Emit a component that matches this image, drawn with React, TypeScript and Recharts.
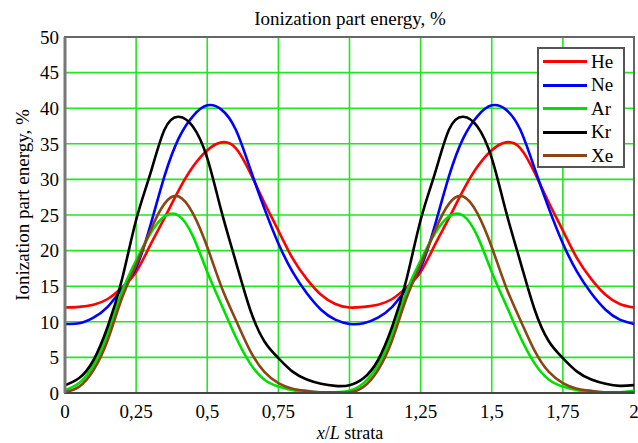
import {
    CartesianGrid,
    Line,
    LineChart,
    ReferenceArea,
    XAxis,
    YAxis,
} from 'recharts';

// x/L positions, two strata periods, step 0.05
const xs = [
    0, 0.05, 0.1, 0.15, 0.2, 0.25, 0.3, 0.35, 0.4, 0.45, 0.5, 0.55, 0.6, 0.65, 0.7, 0.75, 0.8, 0.85, 0.9, 0.95, 1,
    1.05, 1.1, 1.15, 1.2, 1.25, 1.3, 1.35, 1.4, 1.45, 1.5, 1.55, 1.6, 1.65, 1.7, 1.75, 1.8, 1.85, 1.9, 1.95, 2,
];

const he = [
    12.0, 12.1, 12.4, 13.2, 14.8, 17.0, 20.8, 24.6, 28.5, 31.8, 34.1, 35.2, 34.4, 31.0, 26.8, 22.8, 18.9, 16.0, 13.8, 12.5, 12.0,
    12.1, 12.4, 13.2, 14.8, 17.0, 20.8, 24.6, 28.5, 31.8, 34.1, 35.2, 34.4, 31.0, 26.8, 22.8, 18.9, 16.0, 13.8, 12.5, 12.0,
];
const ne = [
    9.7, 9.8, 10.6, 12.1, 14.6, 17.6, 23.5, 30.5, 35.8, 38.9, 40.4, 39.8, 37.0, 31.6, 26.0, 21.0, 17.0, 14.0, 11.7, 10.3, 9.7,
    9.8, 10.6, 12.1, 14.6, 17.6, 23.5, 30.5, 35.8, 38.9, 40.4, 39.8, 37.0, 31.6, 26.0, 21.0, 17.0, 14.0, 11.7, 10.3, 9.7,
];
const ar = [
    0.4, 1.4, 3.9, 8.4, 14.2, 18.6, 22.4, 24.8, 24.9, 22.0, 17.0, 12.4, 7.9, 4.2, 1.9, 0.9, 0.4, 0.2, 0.1, 0.1, 0.3,
    1.4, 3.9, 8.4, 14.2, 18.6, 22.4, 24.8, 24.9, 22.0, 17.0, 12.4, 7.9, 4.2, 1.9, 0.9, 0.4, 0.2, 0.1, 0.1, 0.3,
];
const kr = [
    1.1, 2.1, 4.6, 9.3, 15.9, 24.3, 30.8, 37.0, 38.8, 37.4, 33.0, 25.5, 18.5, 11.8, 7.3, 4.9, 3.0, 1.9, 1.3, 1.0, 1.1,
    2.1, 4.6, 9.3, 15.9, 24.3, 30.8, 37.0, 38.8, 37.4, 33.0, 25.5, 18.5, 11.8, 7.3, 4.9, 3.0, 1.9, 1.3, 1.0, 1.1,
];
const xe = [
    0.1, 0.9, 3.2, 7.4, 13.3, 18.0, 22.8, 26.6, 27.6, 25.2, 20.5, 14.9, 10.3, 6.0, 3.0, 1.4, 0.6, 0.3, 0.1, 0.1, 0.1,
    0.9, 3.2, 7.4, 13.3, 18.0, 22.8, 26.6, 27.6, 25.2, 20.5, 14.9, 10.3, 6.0, 3.0, 1.4, 0.6, 0.3, 0.1, 0.1, 0.1,
];

const xTicks = [0, 0.25, 0.5, 0.75, 1, 1.25, 1.5, 1.75, 2];
const yTicks = [0, 5, 10, 15, 20, 25, 30, 35, 40, 45, 50];

const series = [
    { key: 'He', values: he, color: '#ff0000' },
    { key: 'Ne', values: ne, color: '#0000ff' },
    { key: 'Ar', values: ar, color: '#00e000' },
    { key: 'Kr', values: kr, color: '#000000' },
    { key: 'Xe', values: xe, color: '#8b4513' },
];

const data = xs.map((x, i) => {
    const row: Record<string, number> = { x };
    series.forEach((s) => {
        row[s.key] = s.values[i];
    });
    return row;
});

const font = '"Liberation Serif", "Times New Roman", serif';
const tickStyle = { fill: '#000', fontSize: 19, fontFamily: font };
const formatX = (v: number) => String(v).replace('.', ',');

export default function App() {
    return (
        <div
            style={{
                position: 'absolute',
                left: 0,
                top: 0,
                width: 638,
                height: 443,
                background: '#fff',
                fontFamily: font,
                color: '#000',
            }}
        >
            <LineChart
                width={638}
                height={443}
                data={data}
                margin={{ top: 37, right: 4, bottom: 20, left: 0 }}
            >
                <CartesianGrid stroke="#1ee81e" strokeWidth={1.6} />
                <XAxis
                    dataKey="x"
                    type="number"
                    domain={[0, 2]}
                    ticks={xTicks}
                    tickFormatter={formatX}
                    tick={tickStyle}
                    tickSize={0}
                    tickMargin={12}
                    height={30}
                    axisLine={{ stroke: '#444', strokeWidth: 2 }}
                    interval={0}
                />
                <YAxis
                    type="number"
                    domain={[0, 50]}
                    ticks={yTicks}
                    tick={tickStyle}
                    tickSize={0}
                    tickMargin={6}
                    width={65}
                    axisLine={{ stroke: '#777', strokeWidth: 3 }}
                    interval={0}
                />
                <ReferenceArea
                    x1={0}
                    x2={2}
                    y1={0}
                    y2={50}
                    fill="none"
                    stroke="#666"
                    strokeWidth={2}
                    ifOverflow="visible"
                />
                {series.map((s) => (
                    <Line
                        key={s.key}
                        dataKey={s.key}
                        type="natural"
                        stroke={s.color}
                        strokeWidth={2.6}
                        dot={false}
                        isAnimationActive={false}
                    />
                ))}
            </LineChart>

            <div
                style={{
                    position: 'absolute',
                    left: 150,
                    width: 400,
                    top: 9,
                    textAlign: 'center',
                    fontSize: 19,
                    lineHeight: '19px',
                    whiteSpace: 'nowrap',
                }}
            >
                Ionization part energy, %
            </div>

            <div
                style={{
                    position: 'absolute',
                    left: 23 - 150,
                    top: 205 - 10,
                    width: 300,
                    height: 20,
                    lineHeight: '20px',
                    textAlign: 'center',
                    fontSize: 19,
                    transform: 'rotate(-90deg)',
                    whiteSpace: 'nowrap',
                }}
            >
                Ionization part energy, %
            </div>

            <div
                style={{
                    position: 'absolute',
                    left: 250,
                    width: 200,
                    top: 425,
                    textAlign: 'center',
                    fontSize: 18,
                    lineHeight: '17px',
                    whiteSpace: 'nowrap',
                }}
            >
                <i>x</i>/<i>L</i> strata
            </div>

            <div
                style={{
                    position: 'absolute',
                    left: 537,
                    top: 47,
                    width: 84,
                    height: 116,
                    border: '2px solid #555',
                    background: '#fff',
                    paddingTop: 1,
                }}
            >
                {series.map((s) => (
                    <div
                        key={s.key}
                        style={{
                            display: 'flex',
                            alignItems: 'center',
                            height: 23.5,
                            fontSize: 19,
                        }}
                    >
                        <span
                            style={{
                                display: 'inline-block',
                                width: 44,
                                height: 3,
                                marginLeft: 4,
                                marginRight: 4,
                                background: s.color,
                            }}
                        />
                        {s.key}
                    </div>
                ))}
            </div>
        </div>
    );
}
